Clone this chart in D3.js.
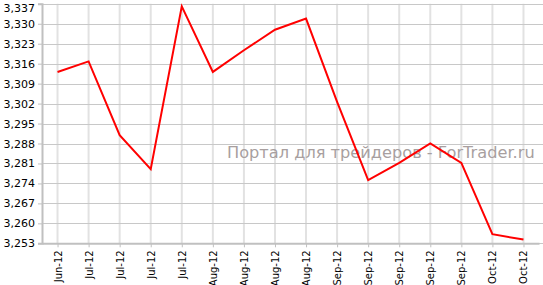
<!DOCTYPE html>
<html><head><meta charset="utf-8">
<script src="https://cdn.jsdelivr.net/npm/d3@7"></script>
<style>body{margin:0;background:#fff;}svg{display:block;}</style>
</head><body>
<svg id="c" width="543" height="285"></svg>
<script>
const categories = ["Jun-12","Jul-12","Jul-12","Jul-12","Jul-12","Aug-12","Aug-12","Aug-12","Aug-12","Sep-12","Sep-12","Sep-12","Sep-12","Sep-12","Oct-12","Oct-12"];
const values = [3.3131,3.3168,3.2909,3.2790,3.3361,3.3131,3.3207,3.3279,3.3318,3.3026,3.2752,3.2812,3.2880,3.2812,3.2562,3.2543];
const yTicks = [3.253,3.260,3.267,3.274,3.281,3.288,3.295,3.302,3.309,3.316,3.323,3.330,3.337];
const watermark = "Портал для трейдеров - ForTrader.ru";

(function(){
const svg = d3.select("#c");
const pl = 42, pr = 539, pt = 3.8, pb = 243.3;
const idx = d3.range(categories.length);
const x = d3.scalePoint().domain(idx).range([pl, pr]).padding(0.5);
const y = d3.scaleLinear().domain([3.253, 3.337]).range([pb, pt]);
const fmt = v => d3.format(".3f")(v).replace(".", ",");

// vertical grid
svg.append("g").selectAll("line").data(idx).join("line")
  .attr("x1", d => x(d)).attr("x2", d => x(d))
  .attr("y1", pt).attr("y2", pb)
  .attr("stroke", "#e2e2e2").attr("stroke-width", 2);
// horizontal grid
svg.append("g").selectAll("line").data(yTicks).join("line")
  .attr("x1", pl).attr("x2", 543)
  .attr("y1", d => Math.round(y(d)) + 0.5).attr("y2", d => Math.round(y(d)) + 0.5)
  .attr("stroke", "#c8c8c8").attr("stroke-width", 1);

// y axis
const ya = svg.append("g").attr("transform", `translate(${pl},0)`)
  .call(d3.axisLeft(y).tickValues(yTicks).tickFormat(fmt).tickSize(4).tickPadding(3));
ya.select(".domain").attr("stroke", "#c0c0c0").attr("stroke-width", 2);
ya.selectAll(".tick line").attr("stroke", "#c0c0c0");
ya.selectAll("text").attr("font-family", "DejaVu Sans, Verdana, sans-serif").attr("font-size", 11).attr("fill", "#000");
// keep top label inside the picture
ya.selectAll(".tick").filter(d => d === yTicks[yTicks.length - 1]).select("text").attr("y", 4);

// x axis
const xa = svg.append("g").attr("transform", `translate(0,${pb})`)
  .call(d3.axisBottom(x).tickFormat(i => categories[i]).tickSize(4).tickSizeOuter(0));
xa.select(".domain").attr("stroke", "#c0c0c0").attr("stroke-width", 2);
xa.selectAll(".tick line").attr("stroke", "#c0c0c0");
xa.selectAll("text")
  .attr("font-family", "DejaVu Sans, Verdana, sans-serif").attr("font-size", 10).attr("fill", "#000")
  .attr("transform", "rotate(-90)")
  .attr("text-anchor", "end")
  .attr("x", -7).attr("y", 0).attr("dy", "0.35em");

// watermark
svg.append("text").attr("x", 227).attr("y", 158)
  .attr("font-family", "DejaVu Sans, Verdana, sans-serif").attr("font-size", 16.2)
  .attr("fill", "#a89f9f").text(watermark);

// line
svg.append("path").datum(idx)
  .attr("fill", "none").attr("stroke", "#ff0000").attr("stroke-width", 2)
  .attr("d", d3.line().x(d => x(d)).y(d => y(values[d])));
})();
</script>
</body></html>
